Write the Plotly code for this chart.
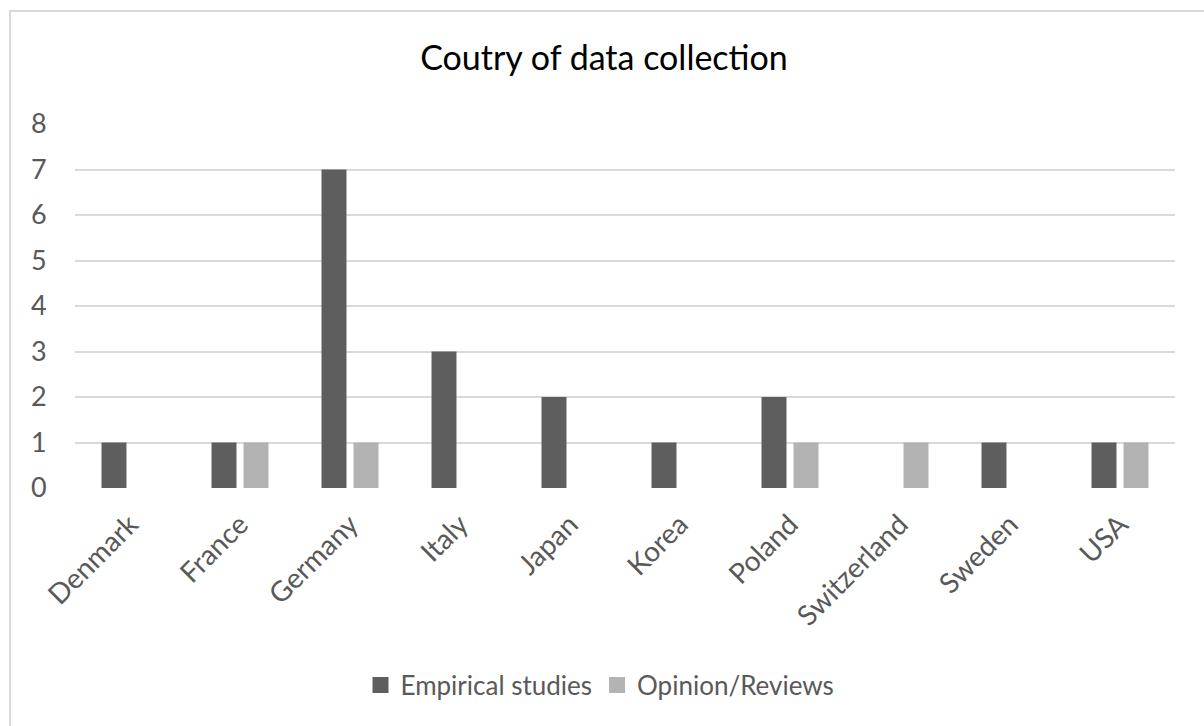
import plotly.graph_objects as go

countries = ["Denmark", "France", "Germany", "Italy", "Japan", "Korea",
             "Poland", "Switzerland", "Sweden", "USA"]
empirical = [1, 1, 7, 3, 2, 1, 2, 0, 1, 1]
opinion = [0, 1, 1, 0, 0, 0, 1, 1, 0, 1]
y_ticks = [0, 1, 2, 3, 4, 5, 6, 7, 8]

series_names = ["Empirical studies", "Opinion/Reviews"]
series_colors = ["#5e5e5e", "#b3b3b3"]

FONT = "Lato"
W, H = 1204, 726
L, R, T, B = 75, 29, 124, 238

fig = go.Figure()
for name, vals, col in zip(series_names, [empirical, opinion], series_colors):
    fig.add_trace(go.Bar(name=name, x=countries, y=vals, showlegend=False,
                         legendgroup=name,
                         marker=dict(color=col, line=dict(width=0))))
# legend entries with larger square swatches
for name, col in zip(series_names, series_colors):
    fig.add_trace(go.Scatter(name=name, x=[None], y=[None], mode="markers",
                             legendgroup=name,
                             marker=dict(symbol="square", size=16, color=col,
                                         line=dict(width=0))))

plot_h = H - T - B
plot_w = W - L - R

fig.update_layout(
    width=W, height=H,
    margin=dict(l=L, r=R, t=T, b=B),
    paper_bgcolor="white", plot_bgcolor="white",
    barmode="group", bargap=0.418, bargroupgap=0.22,
    font=dict(family=FONT, color="#595959", size=26),
    title=dict(text="Coutry of data collection", x=604 / W, xanchor="center",
               y=(H - 58) / H, yanchor="middle",
               font=dict(family=FONT, size=34, color="#000000")),
    showlegend=True,
    legend=dict(orientation="h", x=(600 - L) / plot_w, xanchor="center",
                y=(488 - 685) / plot_h, yanchor="middle",
                font=dict(family=FONT, size=26, color="#595959"),
                traceorder="normal", itemsizing="trace", itemwidth=30),
    xaxis=dict(showgrid=False, showline=False, zeroline=False,
               tickangle=-45, ticks="outside", ticklen=8,
               tickcolor="rgba(0,0,0,0)",
               tickfont=dict(family=FONT, size=28, color="#595959")),
    yaxis=dict(range=[0, 8], tickvals=y_ticks, showgrid=True,
               gridcolor="#d9d9d9", gridwidth=2, zeroline=False,
               showline=False, ticks="outside", ticklen=22,
               tickcolor="rgba(0,0,0,0)",
               tickfont=dict(family=FONT, size=27, color="#595959")),
    shapes=[dict(type="rect", xref="paper", yref="paper",
                 x0=(10 - L) / plot_w, x1=1.2,
                 y0=-1.0, y1=(488 - 11) / plot_h,
                 line=dict(color="#d9d9d9", width=2), layer="below")],
)

fig.write_html("out.html")
